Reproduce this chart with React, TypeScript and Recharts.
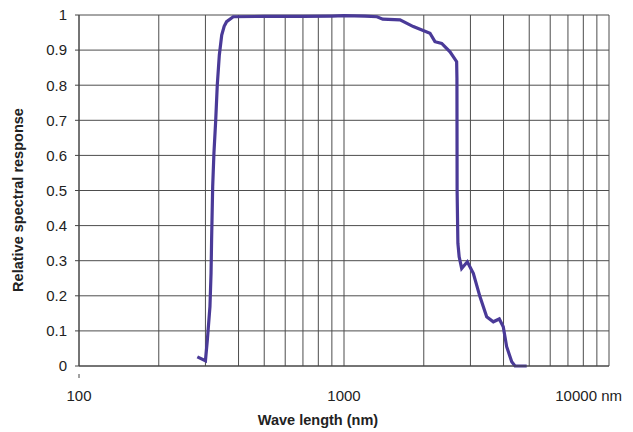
import React from "react"
import { LineChart, Line, XAxis, YAxis, CartesianGrid } from "recharts"

// wavelengths (nm), with relative response
const wavelengths = [
  279.6, 300, 305, 312, 315, 316.5, 319.5, 323, 328, 332.5, 338.5, 345.6, 353, 360.6, 382, 500, 700,
  900, 1000, 1200, 1332, 1400, 1627, 1826, 2111, 2204, 2337, 2512, 2661, 2668, 2672, 2690, 2720,
  2780, 2920, 3076, 3260, 3455, 3660, 3855, 3990, 4110, 4295, 4420, 4892,
]
const response = [
  0.026, 0.015, 0.074, 0.169, 0.265, 0.359, 0.511, 0.607, 0.7, 0.8, 0.886, 0.943, 0.968, 0.981, 0.995,
  0.996, 0.996, 0.997, 0.998, 0.997, 0.995, 0.988, 0.986, 0.967, 0.948, 0.924, 0.919, 0.895, 0.867,
  0.82, 0.5, 0.35, 0.311, 0.278, 0.297, 0.264, 0.197, 0.14, 0.126, 0.134, 0.112, 0.055, 0.012, 0, 0,
]

const xTicks = [
  100, 200, 300, 400, 500, 600, 700, 800, 900, 1000, 2000, 3000, 4000, 5000, 6000, 7000, 8000, 9000,
  10000,
]
const xLabels: Record<number, string> = { 100: "100", 1000: "1000", 10000: "10000 nm" }
const yTicks = [0, 0.1, 0.2, 0.3, 0.4, 0.5, 0.6, 0.7, 0.8, 0.9, 1]

const data = wavelengths.map((wl, i) => ({ wl, value: response[i] }))

const font = "Liberation Sans, Arial, sans-serif"

const XTick = (props: any) => {
  const { x, y, payload } = props
  const label = xLabels[payload.value]
  if (!label) return null
  const isLast = payload.value === 10000
  return (
    <g>
      {payload.value === 100 && <line x1={x} x2={x} y1={y} y2={y + 4} stroke="#444" />}
      <text
        x={isLast ? x + 13 : x}
        y={y + 27}
        textAnchor={isLast ? "end" : "middle"}
        fontSize={15}
        fontFamily={font}
        fill="#222"
      >
        {label}
      </text>
    </g>
  )
}

export default function App() {
  return (
    <div style={{ position: "absolute", left: 0, top: 0 }}>
      <LineChart width={633} height={432} data={data} margin={{ top: 15, right: 24, left: 0, bottom: 0 }}>
        <CartesianGrid stroke="#4d4d4d" strokeWidth={1} horizontalValues={yTicks} verticalValues={xTicks} />
        <XAxis
          dataKey="wl"
          type="number"
          scale="log"
          domain={[100, 10000]}
          ticks={xTicks}
          interval={0}
          height={66}
          axisLine={{ stroke: "#444" }}
          tickLine={false}
          tick={<XTick />}
          allowDataOverflow
        />
        <YAxis
          type="number"
          domain={[0, 1]}
          ticks={yTicks}
          interval={0}
          width={79}
          tickSize={4}
          tickMargin={8}
          axisLine={{ stroke: "#444" }}
          tickLine={{ stroke: "#444" }}
          tick={{ fontSize: 15, fontFamily: font, fill: "#222" }}
          tickFormatter={(v: number) => String(Math.round(v * 10) / 10)}
        />
        <Line
          dataKey="value"
          type="linear"
          stroke="#4a3a98"
          strokeWidth={3.2}
          dot={false}
          isAnimationActive={false}
        />
        <text
          x={18}
          y={200}
          transform="rotate(-90 18 200)"
          textAnchor="middle"
          dominantBaseline="central"
          fontSize={14.5}
          fontWeight="bold"
          fontFamily={font}
          fill="#222"
        >
          Relative spectral response
        </text>
        <text
          x={318}
          y={420}
          textAnchor="middle"
          dominantBaseline="central"
          fontSize={14.5}
          fontWeight="bold"
          fontFamily={font}
          fill="#222"
        >
          Wave length (nm)
        </text>
      </LineChart>
    </div>
  )
}
